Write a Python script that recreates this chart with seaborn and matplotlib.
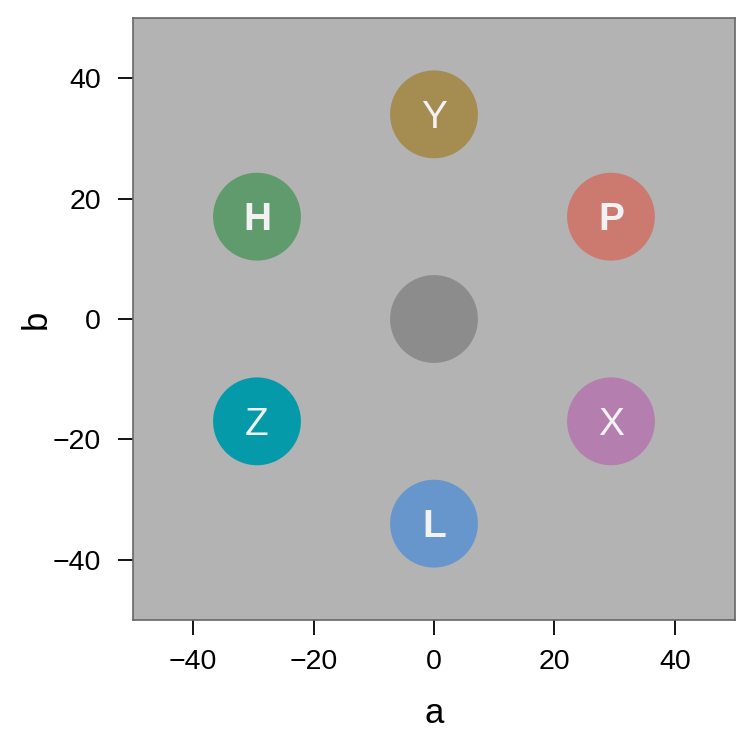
import pandas as pd
import matplotlib.pyplot as plt
import seaborn as sns

# hue wheel positions (a, b) and the letter in each disc
labels = ["", "Y", "P", "X", "L", "Z", "H"]
a_vals = [0, 0, 29.4, 29.4, 0, -29.4, -29.4]
b_vals = [0, 34, 17, -17, -34, -17, 17]
colors = ["#8c8c8c", "#a58c50", "#cc7a70", "#b47fae", "#6796cd", "#049aaa", "#5f9b6c"]
bold = [False, False, True, False, True, False, True]

df = pd.DataFrame({"a": a_vals, "b": b_vals, "label": labels})

sns.set_style("ticks")
plt.rcParams['font.family'] = ['Liberation Sans', 'DejaVu Sans']

fig = plt.figure(figsize=(7.5, 7.33), dpi=100)
ax = fig.add_axes([0.1773, 0.1542, 0.8027, 0.8212])
ax.set_facecolor("#b3b3b3")

sns.scatterplot(data=df, x="a", y="b", hue="label", palette=colors,
                s=4000, linewidth=0, legend=False, ax=ax, zorder=3)

for lab, x, y, bf in zip(labels, a_vals, b_vals, bold):
    ax.text(x, y - 0.6, lab, ha="center", va="center", color="#f2f2f2",
            fontsize=28, fontweight="bold" if bf else "normal", zorder=4)

ax.set_xlim(-50, 50)
ax.set_ylim(-50, 50)
ax.set_xticks([-40, -20, 0, 20, 40])
ax.set_yticks([-40, -20, 0, 20, 40])
ax.tick_params(labelsize=20.5, length=11, width=1.3, color="black",
               labelcolor="black")
ax.tick_params(axis="x", pad=10)
ax.tick_params(axis="y", pad=12)
ax.set_xlabel("a", fontsize=25, color="black", labelpad=16)
ax.set_ylabel("b", fontsize=25, color="black", labelpad=0)
for s in ax.spines.values():
    s.set_color("#666666")
    s.set_linewidth(1.2)

plt.savefig("out.png", dpi=100)
